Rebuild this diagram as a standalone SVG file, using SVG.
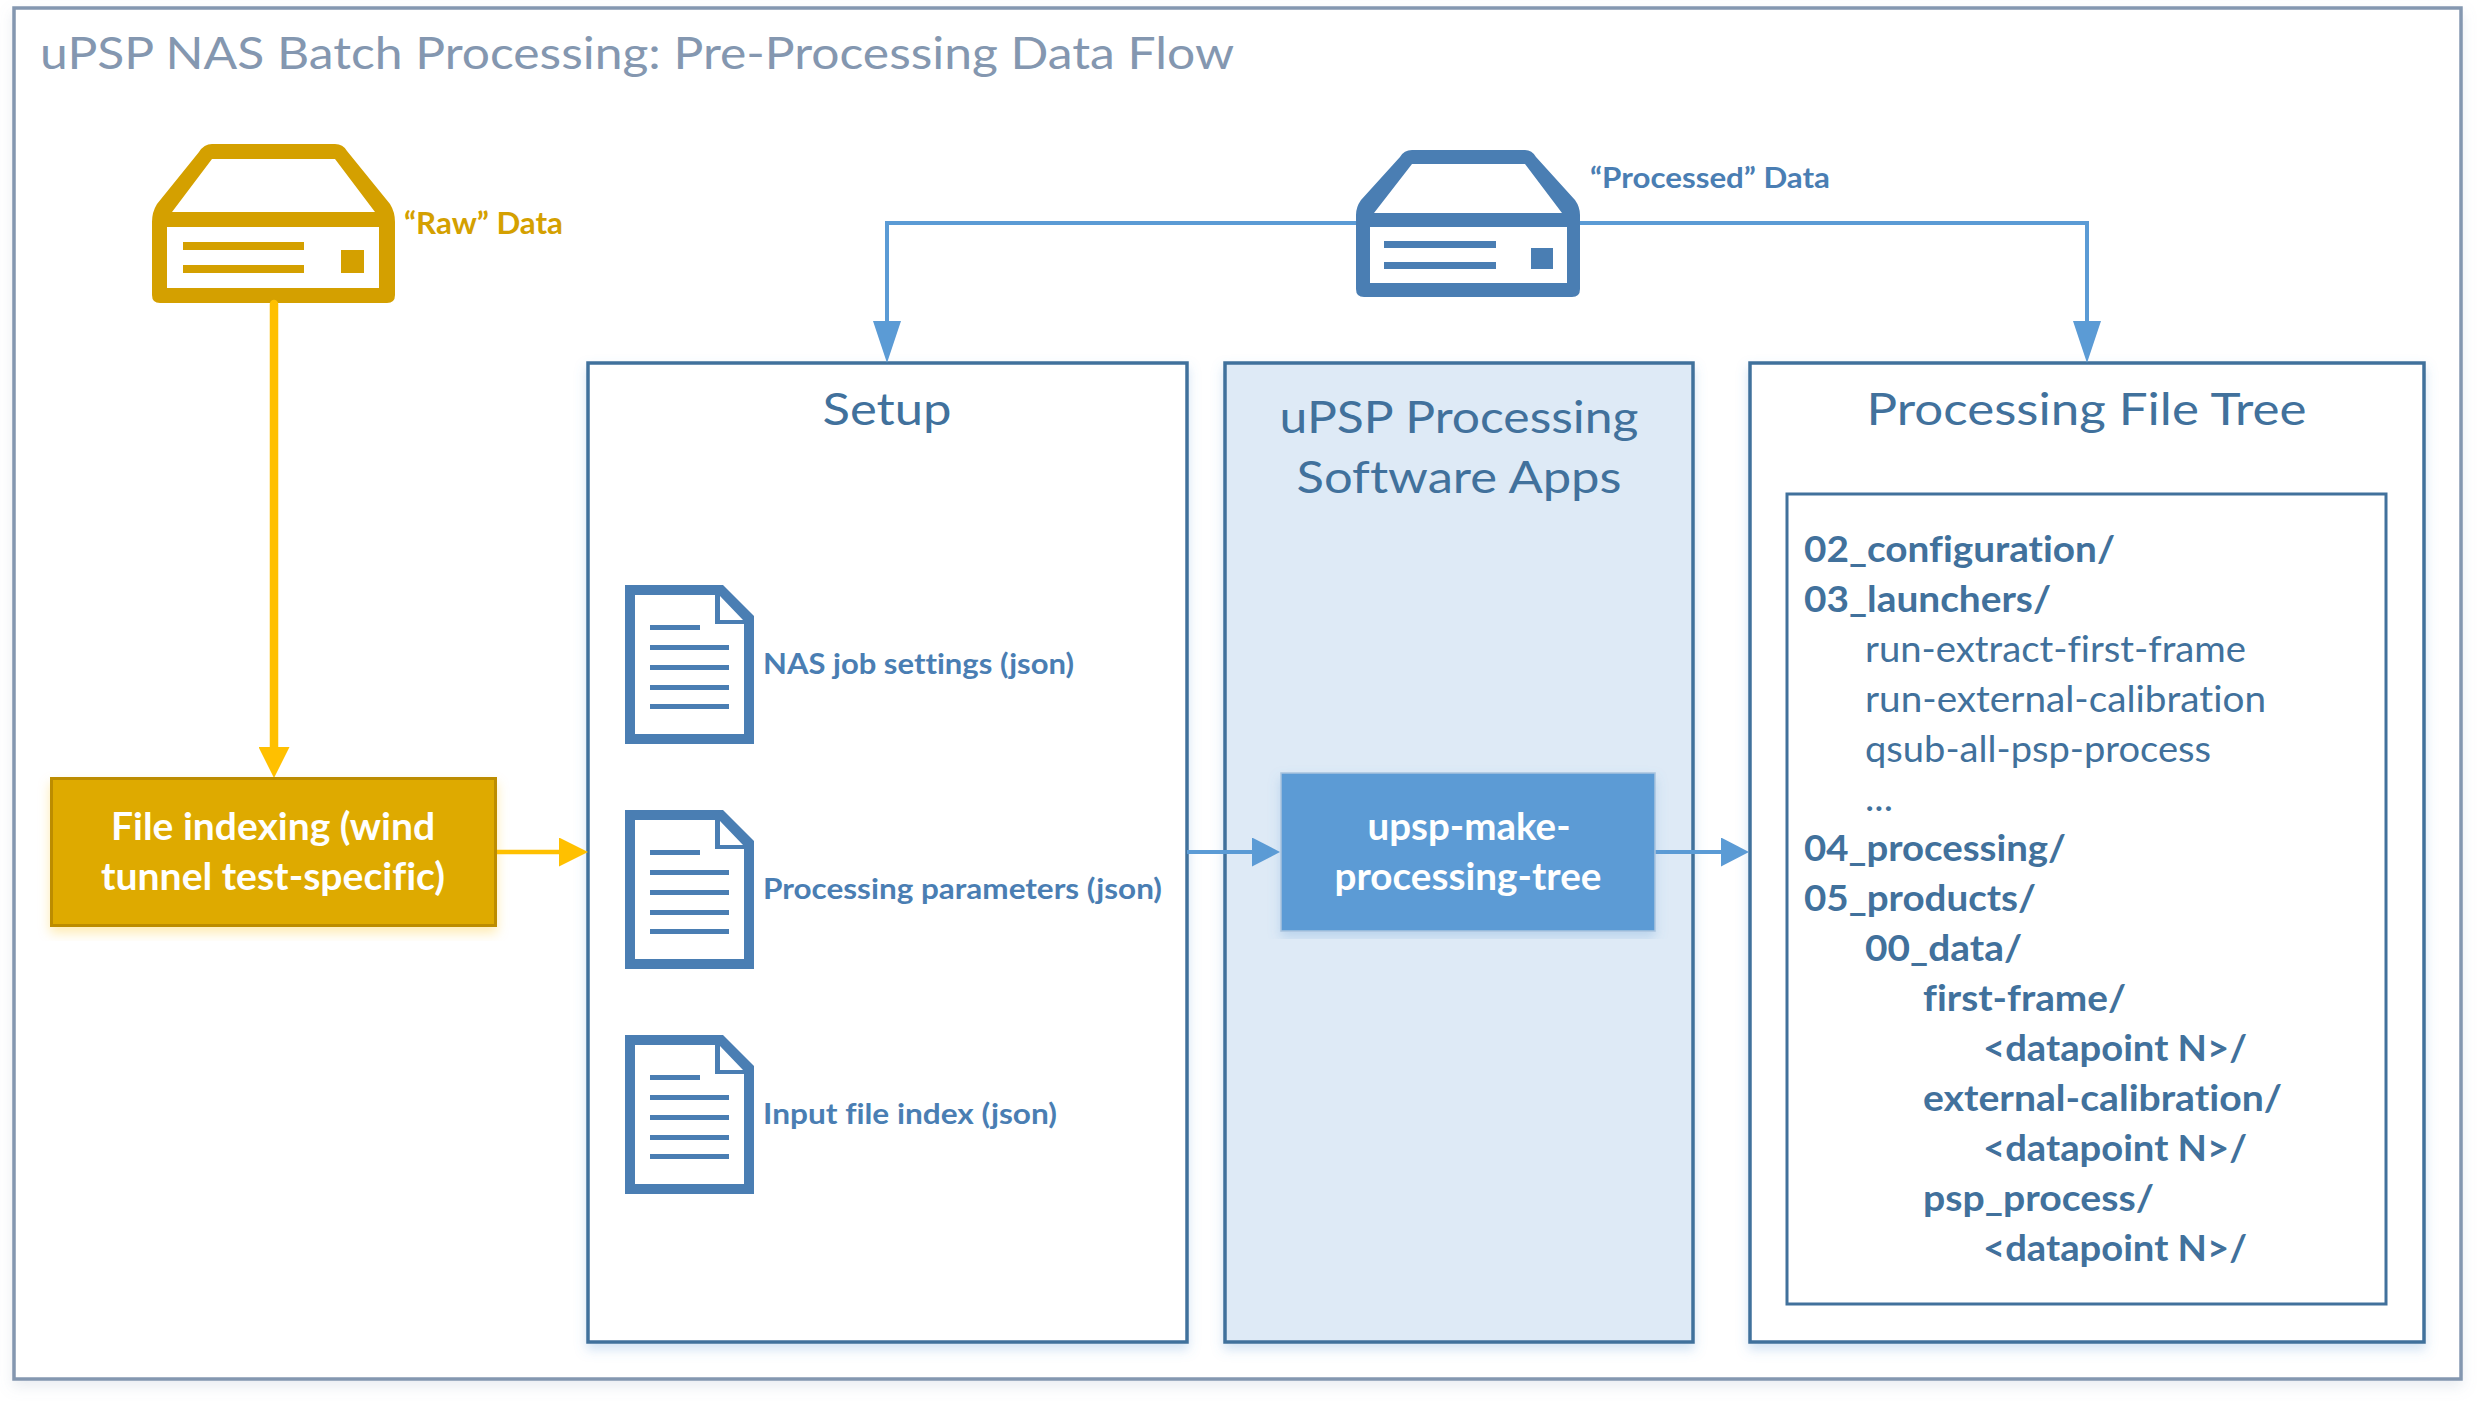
<svg xmlns="http://www.w3.org/2000/svg" width="2478" height="1403" viewBox="0 0 2478 1403">
<style>
text{font-family:"Lato","Carlito","Liberation Sans",sans-serif;font-variant-ligatures:none}
.title{font-size:44px;fill:#8497B0}
.h{font-size:44px;fill:#41719C;text-anchor:middle}
.lbl{font-size:29px;font-weight:700;fill:#4A7EB3}
.raw{font-size:30px;font-weight:700;fill:#D4A000}
.w{font-size:38px;font-weight:700;fill:#fff;text-anchor:middle}
.d{font-size:37px;font-weight:700;fill:#41719C}
.f{font-size:37px;fill:#41719C}
.box{fill:#fff;stroke:#41719C;stroke-width:3.5}
.icon{fill:#4A7EB3;fill-rule:evenodd}
.y{fill:none;stroke:#FFC000}
.b{fill:none;stroke:#5B9BD5;stroke-width:4}
</style>
<defs>
<filter id="shf" x="-2%" y="-2%" width="104%" height="104%"><feDropShadow dx="0" dy="6" stdDeviation="7" flood-color="#8497B0" flood-opacity="0.18"/></filter>
<filter id="sh" x="-5%" y="-5%" width="110%" height="110%"><feDropShadow dx="0" dy="6" stdDeviation="6" flood-color="#5B9BD5" flood-opacity="0.28"/></filter>
<filter id="shy" x="-5%" y="-5%" width="110%" height="115%"><feDropShadow dx="0" dy="6" stdDeviation="6" flood-color="#FFC000" flood-opacity="0.3"/></filter>
<marker id="ay1" markerUnits="userSpaceOnUse" markerWidth="31" markerHeight="31" viewBox="0 0 31 31" refX="0" refY="15.5" orient="auto"><path d="M0,0L31,15.5L0,31Z" fill="#FFC000"/></marker>
<marker id="ay2" markerUnits="userSpaceOnUse" markerWidth="29" markerHeight="29" viewBox="0 0 29 29" refX="0" refY="14.5" orient="auto"><path d="M0,0L29,14.5L0,29Z" fill="#FFC000"/></marker>
<marker id="ab1" markerUnits="userSpaceOnUse" markerWidth="42" markerHeight="28" viewBox="0 0 42 28" refX="0" refY="14" orient="auto"><path d="M0,0L42,14L0,28Z" fill="#5B9BD5"/></marker>
<marker id="ab2" markerUnits="userSpaceOnUse" markerWidth="28" markerHeight="29" viewBox="0 0 28 29" refX="0" refY="14.5" orient="auto"><path d="M0,0L28,14.5L0,29Z" fill="#5B9BD5"/></marker>
<path id="doc" d="M0,0H98L129,31V159H0ZM10,10V149H119V39H90V10ZM95,11V35H118ZM25,40H75V45H25ZM25,60H104V65H25ZM25,80H104V85H25ZM25,100H104V105H25ZM25,119H104V124H25Z" fill-rule="evenodd" fill="#4A7EB3"/>
</defs>

<g id="frame">
<rect x="14" y="8" width="2447" height="1371" fill="#fff" stroke="#8497B0" stroke-width="3.5" filter="url(#shf)"/>
<text class="title" x="40" y="69" textLength="1194" lengthAdjust="spacingAndGlyphs">uPSP NAS Batch Processing: Pre-Processing Data Flow</text>
</g>

<g id="setup">
<rect class="box" x="588" y="363" width="599" height="979" filter="url(#sh)"/>
<text class="h" x="887" y="425" textLength="129" lengthAdjust="spacingAndGlyphs">Setup</text>
<use href="#doc" x="625" y="585"/>
<text class="lbl" x="763" y="674" textLength="311" lengthAdjust="spacingAndGlyphs">NAS job settings (json)</text>
<use href="#doc" x="625" y="810"/>
<text class="lbl" x="763" y="899" textLength="399" lengthAdjust="spacingAndGlyphs">Processing parameters (json)</text>
<use href="#doc" x="625" y="1035"/>
<text class="lbl" x="763" y="1124" textLength="294" lengthAdjust="spacingAndGlyphs">Input file index (json)</text>
</g>

<g id="apps">
<rect x="1225" y="363" width="468" height="979" fill="#DEEAF6" stroke="#41719C" stroke-width="3.5" filter="url(#sh)"/>
<text class="h" x="1459" y="433" textLength="359" lengthAdjust="spacingAndGlyphs">uPSP Processing</text>
<text class="h" x="1459" y="493" textLength="325" lengthAdjust="spacingAndGlyphs">Software Apps</text>
</g>

<g id="tree">
<rect class="box" x="1750" y="363" width="674" height="979" filter="url(#sh)"/>
<text class="h" x="2086.500" y="425" textLength="440" lengthAdjust="spacingAndGlyphs">Processing File Tree</text>
<rect x="1787" y="494" width="599" height="810" fill="#fff" stroke="#41719C" stroke-width="3"/>
<text class="d" x="1804" y="562" textLength="311" lengthAdjust="spacingAndGlyphs">02_configuration/</text>
<text class="d" x="1804" y="612" textLength="247" lengthAdjust="spacingAndGlyphs">03_launchers/</text>
<text class="f" x="1865" y="662" textLength="381" lengthAdjust="spacingAndGlyphs">run-extract-first-frame</text>
<text class="f" x="1865" y="712" textLength="401" lengthAdjust="spacingAndGlyphs">run-external-calibration</text>
<text class="f" x="1865" y="762" textLength="346" lengthAdjust="spacingAndGlyphs">qsub-all-psp-process</text>
<text class="f" x="1865" y="811" textLength="28" lengthAdjust="spacingAndGlyphs">...</text>
<text class="d" x="1804" y="861" textLength="262" lengthAdjust="spacingAndGlyphs">04_processing/</text>
<text class="d" x="1804" y="911" textLength="232" lengthAdjust="spacingAndGlyphs">05_products/</text>
<text class="d" x="1865" y="961" textLength="157" lengthAdjust="spacingAndGlyphs">00_data/</text>
<text class="d" x="1923" y="1011" textLength="203" lengthAdjust="spacingAndGlyphs">first-frame/</text>
<text class="d" x="1983" y="1061" textLength="264" lengthAdjust="spacingAndGlyphs">&lt;datapoint N&gt;/</text>
<text class="d" x="1923" y="1111" textLength="359" lengthAdjust="spacingAndGlyphs">external-calibration/</text>
<text class="d" x="1983" y="1161" textLength="264" lengthAdjust="spacingAndGlyphs">&lt;datapoint N&gt;/</text>
<text class="d" x="1923" y="1211" textLength="231" lengthAdjust="spacingAndGlyphs">psp_process/</text>
<text class="d" x="1983" y="1261" textLength="264" lengthAdjust="spacingAndGlyphs">&lt;datapoint N&gt;/</text>
</g>

<g id="raw-data">
<path fill="#D4A000" fill-rule="evenodd" d="M160,303Q152,303 152,295V222Q152,212 157,204L199,152Q204,144 212,144H335Q343,144 347,151L390,204Q395,212 395,222V295Q395,303 387,303ZM212,159L172,212H375L335,159ZM167,227V288H379V227ZM183,242H304V250H183ZM183,265H304V273H183ZM341,250H364V273H341Z"/>
<text class="raw" x="404" y="234" textLength="159" lengthAdjust="spacingAndGlyphs">“Raw” Data</text>
</g>

<g id="connectors">
<path class="y" stroke-width="8.5" stroke-linecap="round" d="M274,304V747" marker-end="url(#ay1)"/>
<path class="y" stroke-width="4.5" d="M495,852H559" marker-end="url(#ay2)"/>
<path class="b" d="M1356,223H887V321" marker-end="url(#ab1)"/>
<path class="b" d="M1580,223H2087V321" marker-end="url(#ab1)"/>
<path class="b" d="M1187,852H1252" marker-end="url(#ab2)"/>
<path class="b" d="M1655,852H1721" marker-end="url(#ab2)"/>
</g>

<g id="processed-data">
<path class="icon" d="M1364,297Q1356,297 1356,289V215Q1356,207 1361,200L1400,157Q1404,150 1412,150H1525Q1532,150 1536,157L1575,200Q1580,207 1580,215V289Q1580,297 1572,297ZM1412,164L1374,213H1562L1525,164ZM1370,227V283H1567V227ZM1384,241H1496V248H1384ZM1384,262H1496V269H1384ZM1531,248H1553V269H1531Z"/>
<text class="lbl" x="1590" y="188" textLength="240" lengthAdjust="spacingAndGlyphs">“Processed” Data</text>
</g>

<g id="file-indexing">
<rect x="51.5" y="778.5" width="444" height="147" fill="#DEAA00" stroke="#BC8C00" stroke-width="3" filter="url(#shy)"/>
<text class="w" x="273" y="840" textLength="324" lengthAdjust="spacingAndGlyphs">File indexing (wind</text>
<text class="w" x="273" y="890" textLength="344" lengthAdjust="spacingAndGlyphs">tunnel test-specific)</text>
</g>

<g id="make-tree">
<rect x="1281" y="773" width="374" height="158" fill="#5B9BD5" stroke="#A9C4DE" stroke-width="1.5" filter="url(#sh)"/>
<text class="w" x="1469" y="840" textLength="203" lengthAdjust="spacingAndGlyphs">upsp-make-</text>
<text class="w" x="1468" y="890" textLength="267" lengthAdjust="spacingAndGlyphs">processing-tree</text>
</g>
</svg>
